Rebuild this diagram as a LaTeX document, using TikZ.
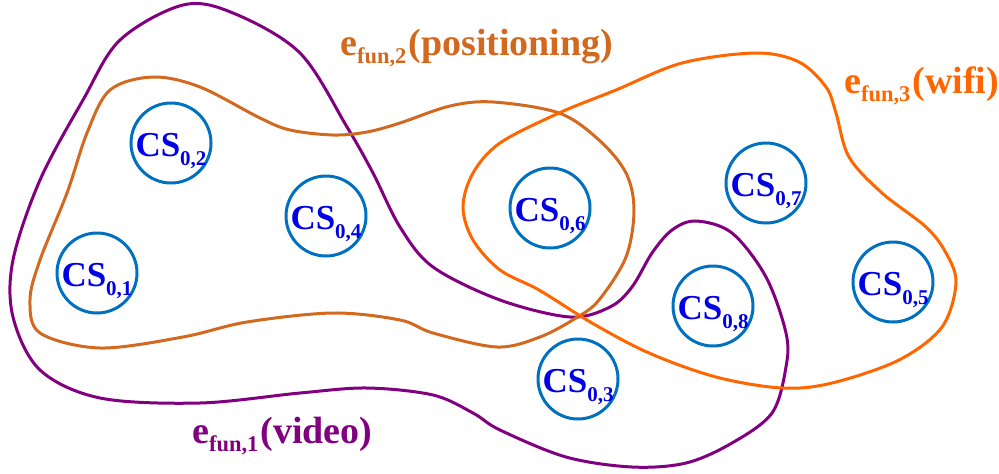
\documentclass[tikz,border=0pt]{standalone}
\usepackage{fontspec}
\setmainfont{Liberation Serif}
\definecolor{colvid}{RGB}{128,0,128}
\definecolor{colpos}{RGB}{210,105,30}
\definecolor{colwif}{RGB}{255,102,0}
\definecolor{csline}{RGB}{0,112,192}
\definecolor{cstext}{RGB}{0,0,230}
\newcommand{\csl}[1]{\fontsize{35}{35}\selectfont\bfseries CS\raisebox{-9pt}{\fontsize{21}{21}\selectfont #1}}
\newcommand{\efun}[2]{\fontsize{38}{38}\selectfont\bfseries e\raisebox{-8pt}{\fontsize{22.5}{22.5}\selectfont fun,#1}\hspace{2pt}#2}
\begin{document}
\begin{tikzpicture}[x=1pt,y=-1pt,
  csnode/.style={circle,draw=csline,line width=3pt,minimum size=80pt,inner sep=0pt,
     text=cstext,text height=26pt,text depth=0pt},
  hyper/.style={line width=3pt,line join=round},
  lab/.style={anchor=base west,inner sep=0pt}]
\useasboundingbox (0,0) rectangle (999,474);

% e_fun,1 (video)
\draw[hyper,colvid] plot[smooth cycle,tension=0.55] coordinates {
 (120,40) (183,5) (233,13) (300,53) (347,127) (373,173) (400,227) (433,267)
 (500,300) (570,317) (610,307) (632,287) (652,253) (672,230) (696,221) (732,233)
 (766,277) (786,333) (786,367) (772,413) (732,443) (686,463) (632,467) (566,457)
 (500,430) (473,413) (433,395) (367,388) (300,393) (200,403) (100,398) (40,370)
 (13,317) (13,260) (40,180) (83,100)};

% e_fun,2 (positioning)
\draw[hyper,colpos] plot[smooth cycle,tension=0.55] coordinates {
 (110,90) (153,77) (200,87) (260,118) (290,130) (333,135) (367,132) (400,123)
 (450,106) (493,102) (559,113) (599,140) (626,173) (634,210) (626,257) (599,300)
 (576,318) (540,337) (497,347) (433,333) (400,320) (333,313) (247,322) (183,337)
 (100,348) (40,333) (30,300) (40,260) (67,193) (87,133)};

% e_fun,3 (wifi)
\draw[hyper,colwif] plot[smooth cycle,tension=0.55] coordinates {
 (500,143) (559,113) (616,90) (682,63) (756,53) (799,62) (826,87) (836,113)
 (849,157) (882,193) (926,227) (946,253) (956,283) (942,327) (899,360) (832,383)
 (782,388) (716,377) (649,353) (592,323) (539,290) (500,270) (473,240) (463,207)
 (473,173)};

\node[csnode] (c1) at (97,273) {\csl{0,1}};
\node[csnode] (c2) at (171,143) {\csl{0,2}};
\node[csnode] (c4) at (326,216) {\csl{0,4}};
\node[csnode] (c6) at (550,208) {\csl{0,6}};
\node[csnode] (c7) at (766,183) {\csl{0,7}};
\node[csnode] (c5) at (893,282) {\csl{0,5}};
\node[csnode] (c8) at (713,306) {\csl{0,8}};
\node[csnode] (c3) at (578,379) {\csl{0,3}};

\node[lab,text=colpos] (l2) at (340,55) {\efun{2}{(positioning)}};
\node[lab,text=colwif] (l3) at (844,93) {\efun{3}{(wifi)}};
\node[lab,text=colvid] (l1) at (192,443) {\efun{1}{(video)}};
\end{tikzpicture}
\end{document}
